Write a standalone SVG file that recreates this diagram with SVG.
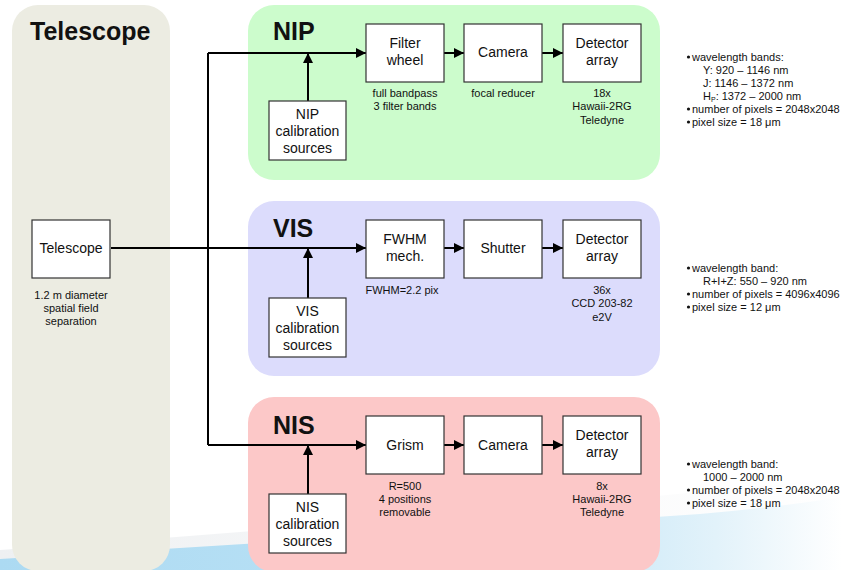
<svg xmlns="http://www.w3.org/2000/svg" width="842" height="570" viewBox="0 0 842 570">
  <defs>
    <linearGradient id="swoosh" x1="0" y1="0" x2="1" y2="0">
      <stop offset="0" stop-color="#acdaf2"/>
      <stop offset="0.6" stop-color="#bde3f6"/>
      <stop offset="0.85" stop-color="#e2f2fa"/>
      <stop offset="1" stop-color="#ffffff"/>
    </linearGradient>
    <linearGradient id="haze" x1="0" y1="0" x2="1" y2="0">
      <stop offset="0" stop-color="#eef0f2"/>
      <stop offset="1" stop-color="#ffffff"/>
    </linearGradient>
    <marker id="arrow" viewBox="0 0 10 10" refX="10" refY="5" markerWidth="10" markerHeight="10" markerUnits="userSpaceOnUse" orient="auto">
      <path d="M0,0 L10,5 L0,10 z" fill="#000"/>
    </marker>
  </defs>
  <style>
    text { font-family: "Liberation Sans", Arial, sans-serif; fill: #111; }
    .title { font-size: 25px; font-weight: bold; }
    .box { fill: #fff; stroke: #333; stroke-width: 1.2; }
    .lbl { font-size: 14px; text-anchor: middle; }
    .sub { font-size: 11px; text-anchor: middle; }
    .note { font-size: 11px; }
    .wire { fill: none; stroke: #000; stroke-width: 2; }
  </style>

  <!-- background -->
  <rect width="842" height="570" fill="#fff"/>
  <path d="M0,550 Q400,522 842,478 L842,570 L0,570 z" fill="url(#haze)"/>
  <path d="M0,559 Q350,538 700,514 Q780,507 842,497 L842,570 L0,570 z" fill="url(#swoosh)"/>

  <!-- panels -->
  <rect x="12" y="5" width="158" height="566" rx="26" fill="#ececE2"/>
  <rect x="248" y="5" width="412" height="175" rx="26" fill="#ccfccc"/>
  <rect x="248" y="201" width="412" height="175" rx="26" fill="#dcdcfc"/>
  <rect x="248" y="397" width="412" height="175" rx="26" fill="#fcc8c8"/>

  <text class="title" x="30" y="40">Telescope</text>
  <text class="title" x="273" y="40">NIP</text>
  <text class="title" x="273" y="237">VIS</text>
  <text class="title" x="273" y="434">NIS</text>

  <!-- connectors -->
  <g id="connectors">
    <path class="wire" d="M111,248 H208" stroke-width="3"/>
    <path class="wire" d="M208,248 H366" marker-end="url(#arrow)"/>
    <path class="wire" d="M208,53 V445"/>
    <path class="wire" d="M208,53 H366" marker-end="url(#arrow)"/>
    <path class="wire" d="M208,445 H366" marker-end="url(#arrow)"/>
    <path class="wire" d="M308,101 V53" marker-end="url(#arrow)"/>
    <path class="wire" d="M308,298 V248" marker-end="url(#arrow)"/>
    <path class="wire" d="M308,494 V445" marker-end="url(#arrow)"/>
    <path class="wire" d="M444,53 H464" marker-end="url(#arrow)"/>
    <path class="wire" d="M542,53 H563" marker-end="url(#arrow)"/>
    <path class="wire" d="M444,248 H464" marker-end="url(#arrow)"/>
    <path class="wire" d="M542,248 H563" marker-end="url(#arrow)"/>
    <path class="wire" d="M444,445 H464" marker-end="url(#arrow)"/>
    <path class="wire" d="M542,445 H563" marker-end="url(#arrow)"/>
  </g>

  <!-- telescope -->
  <g id="telescope">
    <rect class="box" x="32" y="220" width="78" height="58"/>
    <text class="lbl" x="71" y="253">Telescope</text>
    <text class="sub" x="71" y="299">1.2 m diameter</text>
    <text class="sub" x="71" y="312">spatial field</text>
    <text class="sub" x="71" y="325">separation</text>
  </g>

  <!-- NIP -->
  <g id="nip-cal">
    <rect class="box" x="269" y="101" width="77" height="59"/>
    <text class="lbl" x="307.5" y="119">NIP</text>
    <text class="lbl" x="307.5" y="136">calibration</text>
    <text class="lbl" x="307.5" y="153">sources</text>
  </g>
  <g id="nip-filter">
    <rect class="box" x="366" y="24" width="78" height="58"/>
    <text class="lbl" x="405" y="48">Filter</text>
    <text class="lbl" x="405" y="65">wheel</text>
    <text class="sub" x="405" y="97">full bandpass</text>
    <text class="sub" x="405" y="110">3 filter bands</text>
  </g>
  <g id="nip-camera">
    <rect class="box" x="464" y="24" width="78" height="58"/>
    <text class="lbl" x="503" y="57">Camera</text>
    <text class="sub" x="503" y="97">focal reducer</text>
  </g>
  <g id="nip-detector">
    <rect class="box" x="563" y="24" width="78" height="58"/>
    <text class="lbl" x="602" y="48">Detector</text>
    <text class="lbl" x="602" y="65">array</text>
    <text class="sub" x="602" y="97">18x</text>
    <text class="sub" x="602" y="110">Hawaii-2RG</text>
    <text class="sub" x="602" y="124">Teledyne</text>
  </g>

  <!-- VIS -->
  <g id="vis-cal">
    <rect class="box" x="269" y="298" width="77" height="59"/>
    <text class="lbl" x="307.5" y="316">VIS</text>
    <text class="lbl" x="307.5" y="333">calibration</text>
    <text class="lbl" x="307.5" y="350">sources</text>
  </g>
  <g id="vis-fwhm">
    <rect class="box" x="366" y="220" width="78" height="58"/>
    <text class="lbl" x="405" y="244">FWHM</text>
    <text class="lbl" x="405" y="261">mech.</text>
    <text class="sub" x="402" y="294">FWHM=2.2 pix</text>
  </g>
  <g id="vis-shutter">
    <rect class="box" x="464" y="220" width="78" height="58"/>
    <text class="lbl" x="503" y="253">Shutter</text>
  </g>
  <g id="vis-detector">
    <rect class="box" x="563" y="220" width="78" height="58"/>
    <text class="lbl" x="602" y="244">Detector</text>
    <text class="lbl" x="602" y="261">array</text>
    <text class="sub" x="602" y="294">36x</text>
    <text class="sub" x="602" y="307">CCD 203-82</text>
    <text class="sub" x="602" y="321">e2V</text>
  </g>

  <!-- NIS -->
  <g id="nis-cal">
    <rect class="box" x="269" y="494" width="77" height="59"/>
    <text class="lbl" x="307.5" y="512">NIS</text>
    <text class="lbl" x="307.5" y="529">calibration</text>
    <text class="lbl" x="307.5" y="546">sources</text>
  </g>
  <g id="nis-grism">
    <rect class="box" x="366" y="416" width="78" height="58"/>
    <text class="lbl" x="405" y="450">Grism</text>
    <text class="sub" x="405" y="490">R=500</text>
    <text class="sub" x="405" y="503">4 positions</text>
    <text class="sub" x="405" y="516">removable</text>
  </g>
  <g id="nis-camera">
    <rect class="box" x="464" y="416" width="78" height="58"/>
    <text class="lbl" x="503" y="450">Camera</text>
  </g>
  <g id="nis-detector">
    <rect class="box" x="563" y="416" width="78" height="58"/>
    <text class="lbl" x="602" y="440">Detector</text>
    <text class="lbl" x="602" y="457">array</text>
    <text class="sub" x="602" y="490">8x</text>
    <text class="sub" x="602" y="503">Hawaii-2RG</text>
    <text class="sub" x="602" y="516">Teledyne</text>
  </g>

  <!-- specifications -->
  <g id="nip-spec">
    <circle cx="688.5" cy="57" r="1.6" fill="#111"/>
    <text class="note" x="692" y="61">wavelength bands:</text>
    <text class="note" x="703" y="74">Y: 920 – 1146 nm</text>
    <text class="note" x="703" y="87">J:  1146 – 1372 nm</text>
    <text class="note" x="703" y="100">H<tspan font-size="7" dy="2">P</tspan><tspan dy="-2">: 1372 – 2000 nm</tspan></text>
    <circle cx="688.5" cy="109" r="1.6" fill="#111"/>
    <text class="note" x="692" y="113">number of pixels = 2048x2048</text>
    <circle cx="688.5" cy="122" r="1.6" fill="#111"/>
    <text class="note" x="692" y="126">pixel size = 18 μm</text>
  </g>
  <g id="vis-spec">
    <circle cx="688.5" cy="268" r="1.6" fill="#111"/>
    <text class="note" x="692" y="272">wavelength band:</text>
    <text class="note" x="703" y="285">R+I+Z: 550 – 920 nm</text>
    <circle cx="688.5" cy="294" r="1.6" fill="#111"/>
    <text class="note" x="692" y="298">number of pixels = 4096x4096</text>
    <circle cx="688.5" cy="307" r="1.6" fill="#111"/>
    <text class="note" x="692" y="311">pixel size = 12 μm</text>
  </g>
  <g id="nis-spec">
    <circle cx="688.5" cy="464" r="1.6" fill="#111"/>
    <text class="note" x="692" y="468">wavelength band:</text>
    <text class="note" x="703" y="481">1000 – 2000 nm</text>
    <circle cx="688.5" cy="490" r="1.6" fill="#111"/>
    <text class="note" x="692" y="494">number of pixels = 2048x2048</text>
    <circle cx="688.5" cy="503" r="1.6" fill="#111"/>
    <text class="note" x="692" y="507">pixel size = 18 μm</text>
  </g>
</svg>
